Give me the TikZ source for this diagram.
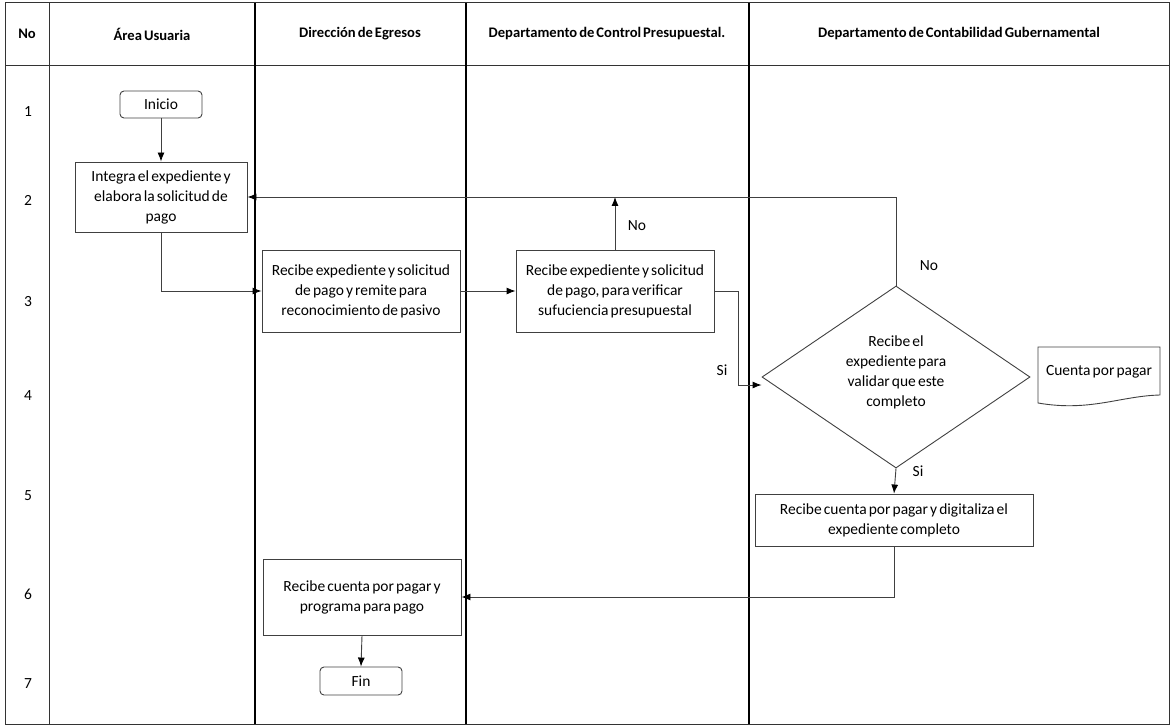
\documentclass[tikz,border=0pt]{standalone}
\usepackage{fontspec}
\setmainfont{Carlito}[WordSpace=0.6]
\usetikzlibrary{arrows.meta,shapes.geometric,calc}
\begin{document}
\begin{tikzpicture}[x=1pt,y=-1pt,
  every node/.style={font=\fontsize{15.5}{20}\selectfont},
  box/.style={draw=black!75,line width=0.9pt,align=center,inner sep=2pt},
  term/.style={draw=black!75,line width=0.9pt,rounded corners=4pt,align=center},
  hdr/.style={font=\fontsize{14.6}{17}\selectfont\bfseries},
  arr/.style={draw=black!75,line width=0.9pt,-{Latex[length=9pt,width=7pt,black]}},
  lane/.style={line width=1.6pt,black},
  frame/.style={line width=1pt,black!80}]
\useasboundingbox (0,0) rectangle (1174,727);
% frame
\draw[frame] (5,3) rectangle (1169,724);
\draw[frame] (5,66) -- (1169,66);
\draw[frame] (49,3) -- (49,724);
\draw[lane] (255,3) -- (255,724);
\draw[lane] (466,3) -- (466,724);
\draw[lane] (749,3) -- (749,724);
% headers
\node[hdr] (h0) at (27,34) {No};
\node[hdr] (h1) at (152,34) {Área Usuaria};
\node[hdr] (h2) at (360,34) {Dirección de Egresos};
\node[hdr] (h3) at (607,34) {Departamento de Control Presupuestal.};
\node[hdr] (h4) at (959,34) {Departamento de Contabilidad Gubernamental};
% row numbers
\node (r1) at (28,112) {1};
\node (r2) at (28,200) {2};
\node (r3) at (28,302) {3};
\node (r4) at (28,396) {4};
\node (r5) at (28,496) {5};
\node (r6) at (28,594) {6};
\node (r7) at (28,684) {7};
% nodes
\node[term,minimum width=82pt,minimum height=27pt] (inicio) at (161,104.5) {Inicio};
\node[box,minimum width=172pt,minimum height=70pt] (integra) at (161,197) {Integra el expediente y\\elabora la solicitud de\\pago};
\node[box,minimum width=198pt,minimum height=82pt] (dir1) at (361,291) {Recibe expediente y solicitud\\de pago y remite para\\reconocimiento de pasivo};
\node[box,minimum width=198pt,minimum height=82pt] (ctrl) at (615,291) {Recibe expediente y solicitud\\de pago, para verificar\\sufuciencia presupuestal};
\node[diamond,draw=black!75,line width=0.9pt,minimum width=268pt,minimum height=182pt,inner sep=0pt] (dia) at (896,377) {};
\node[align=center] (diat) at (896,372) {Recibe el\\expediente para\\validar que este\\completo};
\node (doct) at (1099,372) {Cuenta por pagar};
\draw[draw=black!75,line width=0.9pt] (1038,347) -- (1160,347) -- (1160,395)
  .. controls (1120,396) and (1090,412) .. (1038,403) -- cycle;
\node[box,minimum width=278pt,minimum height=52pt] (cont) at (894,520) {Recibe cuenta por pagar y digitaliza el\\expediente completo};
\node[box,minimum width=198pt,minimum height=76pt] (dir2) at (362,597) {Recibe cuenta por pagar y\\programa para pago};
\node[term,minimum width=82pt,minimum height=28pt] (fin) at (361,681) {Fin};
% connectors
\draw[arr] (inicio.south) -- (integra.north);
\draw[arr] (integra.south) |- (dir1.west);
\draw[arr] (dir1.east) -- (ctrl.west);
\draw[arr] (ctrl.north) -- (ctrl.north |- integra.east);
\node (no1) at (637,226) {No};
\draw[arr] (dia.north) |- (integra.east);
\node (no2) at (929,266) {No};
\draw[arr] (ctrl.east) -- ++(24,0) |- ($(dia.west)+(0,8)$);
\node (si1) at (722,370) {Si};
\draw[arr] (dia.south) -- (cont.north);
\node (si2) at (918,471) {Si};
\draw[arr] (cont.south) |- (dir2.east);
\draw[arr] (dir2.south) -- (fin.north);
\end{tikzpicture}
\end{document}
